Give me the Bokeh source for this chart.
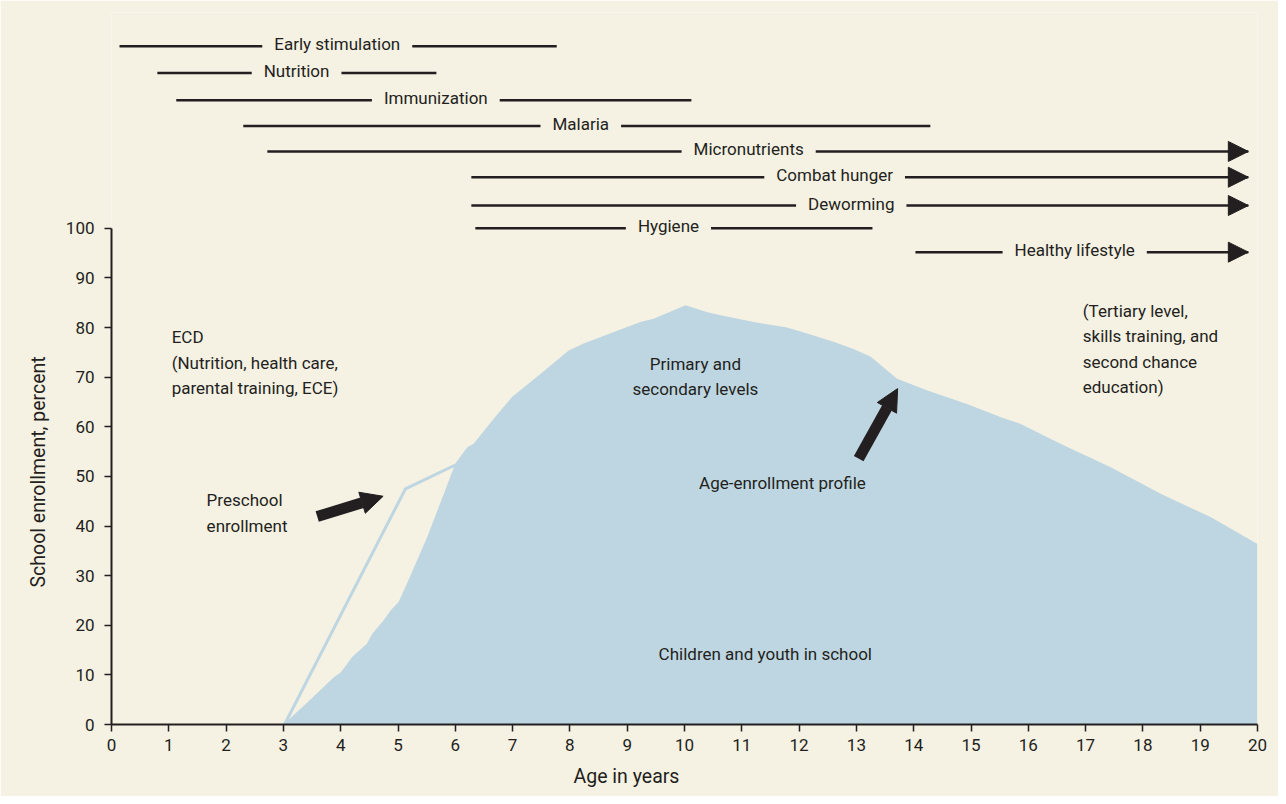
from bokeh.plotting import figure
from bokeh.models import (Range1d, FixedTicker, Arrow, NormalHead, ColumnDataSource,
                          Title)
from bokeh.core.properties import value
from bokeh.embed import file_html
from bokeh.resources import INLINE

# ---------------- data ----------------
# age-enrollment profile (percent of age group in school)
age = [3.0, 3.45, 3.88, 4.0, 4.11, 4.2, 4.46, 4.55, 4.75, 4.87, 5.01, 5.13, 5.51,
       5.80, 6.0, 6.21, 6.32, 6.67, 6.99, 7.49, 7.98, 8.24, 8.77, 9.23, 9.46, 10.02,
       10.40, 10.63, 11.21, 11.79, 12.14, 12.61, 12.95, 13.25, 13.71, 14.24, 14.93,
       15.51, 15.86, 16.56, 17.43, 18.31, 19.18, 20.0]
enrollment = [0, 4.8, 9.5, 10.5, 12.2, 13.6, 16.3, 18.3, 21.0, 23.0, 24.7, 27.7, 37.8,
              46.5, 52.6, 55.9, 56.6, 61.6, 66.0, 70.7, 75.4, 76.8, 79.1, 81.1, 81.8, 84.5,
              83.1, 82.5, 81.1, 80.0, 78.8, 77.1, 75.7, 74.1, 69.7, 67.3, 64.6,
              62.0, 60.6, 56.6, 51.9, 46.5, 41.8, 36.4]

# preschool enrollment line
preschool_age = [3.02, 5.13, 6.0]
preschool_enrollment = [0, 47.5, 52.3]

# interventions by age
interventions = ["Early stimulation", "Nutrition", "Immunization", "Malaria",
                 "Micronutrients", "Combat hunger", "Deworming", "Hygiene",
                 "Healthy lifestyle"]
start_age = [0.14, 0.80, 1.13, 2.30, 2.72, 6.28, 6.28, 6.35, 14.03]
end_age = [7.77, 5.67, 10.12, 14.29, 19.84, 19.84, 19.84, 13.28, 19.84]
label_age = [3.94, 3.23, 5.66, 8.19, 11.12, 12.62, 12.91, 9.72, 16.81]
continues = [False, False, False, False, True, True, True, False, True]
row_level = [136.7, 131.3, 125.8, 120.6, 115.5, 110.3, 104.6, 100.0, 95.2]

x_ticks = list(range(0, 21))
y_ticks = list(range(0, 101, 10))

# annotation arrows (data units)
pointer_x0 = [3.59, 13.04]
pointer_y0 = [41.9, 53.6]
pointer_x1 = [4.74, 13.72]
pointer_y1 = [46.0, 67.7]

# ---------------- style ----------------
CREAM = "#f5f1e3"
BLUE = "#bed6e1"
DARK = "#231f20"
FONT = "Roboto"
FS = "17px"
FS_AX = "19.5px"
LH = 1.27

p = figure(width=1278, height=796,
           x_range=Range1d(0, 20), y_range=Range1d(0, 143.5),
           output_backend="svg", toolbar_location=None,
           min_border_left=111, min_border_right=21,
           min_border_top=12, min_border_bottom=72,
           background_fill_color=CREAM, border_fill_color=CREAM,
           outline_line_color=None)
p.grid.visible = False

# area + preschool line
p.varea(x=age, y1=[0] * len(age), y2=enrollment, fill_color=BLUE)
p.line(preschool_age, preschool_enrollment, line_color=BLUE, line_width=3)

# intervention bars
src = ColumnDataSource(dict(x0=start_age, x1=end_age, xl=label_age, y=row_level,
                            name=interventions))
p.segment(x0="x0", y0="y", x1="x1", y1="y", source=src, line_color=DARK, line_width=2.5)
p.text(x="xl", y="y", text="name", source=src, text_align="center",
       text_baseline="middle", text_font=value(FONT), text_font_size=FS,
       text_color=DARK, y_offset=-2,
       background_fill_color=CREAM,
       padding=dict(left=12, right=12, top=0, bottom=0))

arr_src = ColumnDataSource(dict(
    x0=[e - 0.3 for e, c in zip(end_age, continues) if c],
    x1=[e for e, c in zip(end_age, continues) if c],
    y=[r for r, c in zip(row_level, continues) if c]))
p.add_layout(Arrow(end=NormalHead(size=20, fill_color=DARK, line_color=DARK),
                   x_start="x0", y_start="y", x_end="x1", y_end="y",
                   source=arr_src, line_color=DARK, line_width=2.5))

# pointer arrows
p.add_layout(Arrow(end=NormalHead(size=22, fill_color=DARK, line_color=DARK),
                   x_start="x0", y_start="y0", x_end="x1", y_end="y1",
                   source=ColumnDataSource(dict(x0=pointer_x0, y0=pointer_y0,
                                                x1=pointer_x1, y1=pointer_y1)),
                   line_color=DARK, line_width=11))

# annotation texts
def txt(x, y, s, align="left"):
    p.text(x=[x], y=[y], text=[s], text_align=align, text_baseline="middle",
           text_font=value(FONT), text_font_size=FS, text_color=DARK,
           text_line_height=LH)

txt(1.05, 72.9, "ECD\n(Nutrition, health care,\nparental training, ECE)")
txt(1.66, 42.6, "Preschool\nenrollment")
txt(10.19, 70.1, "Primary and\nsecondary levels", "center")
txt(11.71, 48.6, "Age-enrollment profile", "center")
txt(16.95, 75.7, "(Tertiary level,\nskills training, and\nsecond chance\neducation)")
txt(11.41, 14.3, "Children and youth in school", "center")

# axes
for ax in (p.xaxis[0], p.yaxis[0]):
    ax.axis_line_color = DARK
    ax.axis_line_width = 2
    ax.major_tick_line_color = DARK
    ax.major_tick_line_width = 1.5
    ax.major_tick_in = 0
    ax.major_tick_out = 7
    ax.minor_tick_line_color = None
    ax.major_label_text_font = FONT
    ax.major_label_text_font_size = FS
    ax.major_label_text_color = DARK

p.xaxis.ticker = FixedTicker(ticks=x_ticks)
p.yaxis.ticker = FixedTicker(ticks=y_ticks)
p.yaxis.bounds = (0, 100)
p.xaxis.major_label_standoff = 7
p.yaxis.major_label_standoff = 10

# axis titles, placed as in the original (x title under age 9, y title on the 0-100 span)
p.add_layout(Title(text="Age in years", align="left", offset=462, standoff=18,
                   text_font=FONT, text_font_size=FS_AX, text_font_style="normal",
                   text_color=DARK), "below")
p.add_layout(Title(text="School enrollment, percent", align="left", offset=137,
                   standoff=26, text_font=FONT, text_font_size=FS_AX,
                   text_font_style="normal", text_color=DARK), "left")

open("out.html", "w").write(file_html(p, INLINE))
